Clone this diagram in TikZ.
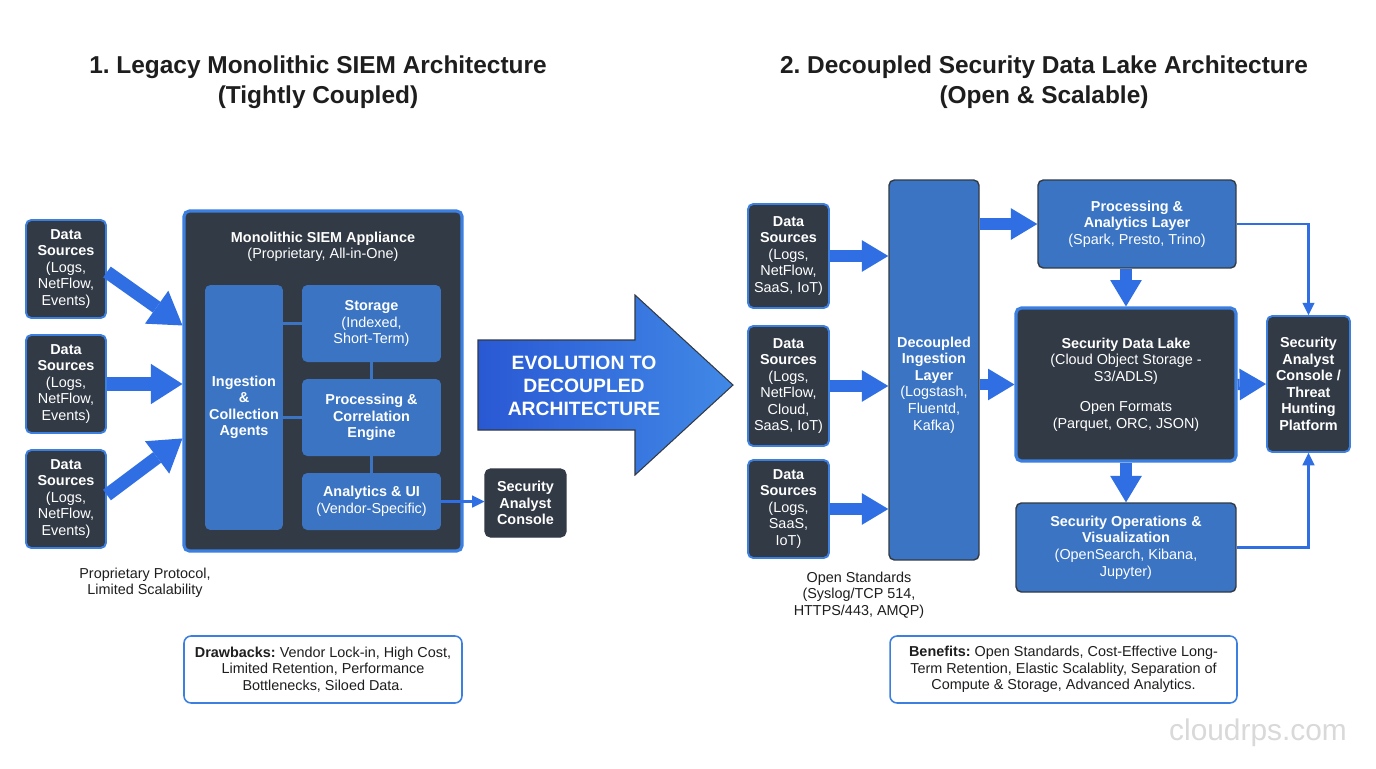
\documentclass[tikz,border=0pt]{standalone}
\usepackage{fontspec}
\setmainfont{Liberation Sans}
\usetikzlibrary{arrows.meta, calc}
\frenchspacing

\definecolor{darkslate}{HTML}{323A45}
\definecolor{boxblue}{HTML}{3A74C2}
\definecolor{edgeblue}{HTML}{3B7FE0}
\definecolor{arrowblue}{HTML}{2F6FE3}
\definecolor{inkgray}{HTML}{1E1E1E}
\definecolor{shadeleft}{HTML}{2A58D4}
\definecolor{shaderight}{HTML}{4189E6}

\newcommand{\boxfont}{\fontsize{8.2}{9.4}\selectfont}
\newcommand{\titlefont}{\fontsize{13.9}{17}\selectfont\bfseries}

\tikzset{
  darkbox/.style={draw=edgeblue, line width=1.1pt, fill=darkslate, rounded corners=3pt,
    text=white, align=center, font=\boxfont, inner sep=1pt},
  bluebox/.style={draw=darkslate, line width=0.8pt, fill=boxblue, rounded corners=3pt,
    text=white, align=center, font=\boxfont, inner sep=1pt},
  innerbox/.style={fill=boxblue, rounded corners=3pt, text=white, align=center,
    font=\boxfont, inner sep=1pt},
  shellbox/.style={draw=edgeblue, line width=1.8pt, fill=darkslate, rounded corners=3pt,
    text=white, align=center, font=\boxfont},
  notebox/.style={draw=edgeblue, line width=0.9pt, fill=white, rounded corners=4pt,
    align=center, font=\boxfont, text=inkgray},
  plaintext/.style={align=center, font=\boxfont, text=inkgray},
  fatarrow/.style={draw=arrowblue, line width=7.5pt, -{Triangle[length=18pt, width=23pt, line width=0pt]}},
  slimarrow/.style={draw=arrowblue, line width=6.5pt, -{Triangle[length=15pt, width=18pt, line width=0pt]}},
  linkline/.style={draw=boxblue, line width=1.6pt},
  thinarrow/.style={draw=arrowblue, line width=1.5pt, -{Triangle[length=7pt, width=7pt, line width=0pt]}},
}

\begin{document}
\begin{tikzpicture}[x=0.02cm, y=-0.02cm]
    \fill[white] (0,0) rectangle (1376,768);
    \useasboundingbox (0,0) rectangle (1376,768);

    % titles
    \node[align=center, font=\titlefont, text=inkgray] (titleL) at (318,82)
        {1. Legacy Monolithic SIEM Architecture\\(Tightly Coupled)};
    \node[align=center, font=\titlefont, text=inkgray] (titleR) at (1044,82)
        {2. Decoupled Security Data Lake Architecture\\(Open \& Scalable)};

    % ---- legacy side ----
    \foreach \n/\y in {1/269, 2/384, 3/499} {
        \node[darkbox, minimum width=1.6cm, minimum height=1.96cm] (srcL\n) at (66,\y)
            {\textbf{Data}\\\textbf{Sources}\\(Logs,\\NetFlow,\\Events)};
    }

    \node[shellbox, minimum width=5.56cm, minimum height=6.8cm] (siem) at (323,381) {};
    \node[align=center, font=\boxfont, text=white] (siemlabel) at (323,247)
        {\textbf{Monolithic SIEM Appliance}\\(Proprietary, All-in-One)};

    \node[innerbox, minimum width=1.56cm, minimum height=4.9cm] (agents) at (244,407.5)
        {\textbf{Ingestion}\\\textbf{\&}\\\textbf{Collection}\\\textbf{Agents}};
    \node[innerbox, minimum width=2.78cm, minimum height=1.54cm] (store) at (371.5,323.5)
        {\textbf{Storage}\\(Indexed,\\Short-Term)};
    \node[innerbox, minimum width=2.78cm, minimum height=1.54cm] (correl) at (371.5,417.5)
        {\textbf{Processing \&}\\\textbf{Correlation}\\\textbf{Engine}};
    \node[innerbox, minimum width=2.78cm, minimum height=1.14cm] (vendorui) at (371.5,501.5)
        {\textbf{Analytics \& UI}\\(Vendor-Specific)};

    \draw[linkline] (agents.east |- store.west) -- (store.west);
    \draw[linkline] (agents.east |- correl.west) -- (correl.west);
    \draw[linkline] (store.south) -- (correl.north);
    \draw[linkline] (correl.south) -- (vendorui.north);

    \draw[fatarrow] ($(srcL1.east)+(0,3)$) -- ($(siem.north west)+(0,116)$);
    \draw[fatarrow] (srcL2.east) -- (siem.west |- srcL2.east);
    \draw[fatarrow] ($(srcL3.east)+(0,-4)$) -- ($(siem.north west)+(0,229)$);

    \node[darkbox, line width=0.6pt, draw=darkslate, minimum width=1.62cm, minimum height=1.36cm] (consoleL) at (525.5,503)
        {\textbf{Security}\\\textbf{Analyst}\\\textbf{Console}};
    \draw[thinarrow] (vendorui.east) -- (consoleL.west |- vendorui.east);

    \node[plaintext] (protoL) at (145,583) {Proprietary Protocol,\\Limited Scalability};
    \node[notebox, minimum width=5.56cm, minimum height=1.34cm] (drawbacks) at (323,669.5)
        {\textbf{Drawbacks:} Vendor Lock-in, High Cost,\\Limited Retention, Performance\\Bottlenecks, Siloed Data.};

    % ---- evolution arrow ----
    \draw[left color=shadeleft, right color=shaderight, draw=darkslate, line width=0.6pt]
        (478,340) -- (635,340) -- (635,295) -- (733,385) -- (635,475) -- (635,430) -- (478,430) -- cycle;
    \node[align=center, text=white, font=\fontsize{11}{13}\selectfont\bfseries] (evolve) at (584,386)
        {EVOLUTION TO\\DECOUPLED\\ARCHITECTURE};

    % ---- data lake side ----
    \node[darkbox, minimum width=1.62cm, minimum height=2.08cm] (srcR1) at (788.5,256)
        {\textbf{Data}\\\textbf{Sources}\\(Logs,\\NetFlow,\\SaaS, IoT)};
    \node[darkbox, minimum width=1.62cm, minimum height=2.4cm] (srcR2) at (788.5,386)
        {\textbf{Data}\\\textbf{Sources}\\(Logs,\\NetFlow,\\Cloud,\\SaaS, IoT)};
    \node[darkbox, minimum width=1.62cm, minimum height=1.96cm] (srcR3) at (788.5,509)
        {\textbf{Data}\\\textbf{Sources}\\(Logs,\\SaaS,\\IoT)};

    \node[bluebox, minimum width=1.8cm, minimum height=7.6cm] (ingest) at (934,370) {};
    \node[align=center, font=\boxfont, text=white] (ingestlabel) at (934,385)
        {\textbf{Decoupled}\\\textbf{Ingestion}\\\textbf{Layer}\\(Logstash,\\Fluentd,\\Kafka)};
    \node[bluebox, minimum width=3.96cm, minimum height=1.76cm] (compute) at (1137,224)
        {\textbf{Processing \&}\\\textbf{Analytics Layer}\\(Spark, Presto, Trino)};
    \node[shellbox, minimum width=4.4cm, minimum height=3.06cm] (lake) at (1126,384.5)
        {\textbf{Security Data Lake}\\(Cloud Object Storage -\\S3/ADLS)\\[8pt]Open Formats\\(Parquet, ORC, JSON)};
    \node[bluebox, minimum width=4.4cm, minimum height=1.78cm] (secops) at (1126,547.5)
        {\textbf{Security Operations \&}\\\textbf{Visualization}\\(OpenSearch, Kibana,\\Jupyter)};
    \node[darkbox, minimum width=1.66cm, minimum height=2.72cm] (consoleR) at (1308.5,384)
        {\textbf{Security}\\\textbf{Analyst}\\\textbf{Console /}\\\textbf{Threat}\\\textbf{Hunting}\\\textbf{Platform}};

    \foreach \n in {1,2,3} {
        \draw[slimarrow] (srcR\n.east) -- (ingest.west |- srcR\n.east);
    }
    \draw[slimarrow] (ingest.east |- compute.west) -- (compute.west);
    \draw[slimarrow] (ingest.east |- lake.west) -- (lake.west);
    \draw[slimarrow] (compute.south -| lake.north) -- (lake.north);
    \draw[slimarrow] (lake.south) -- (secops.north);
    \draw[slimarrow] (lake.east) -- (consoleR.west);
    \draw[thinarrow] (compute.east) -| (consoleR.north);
    \draw[thinarrow] (secops.east) -| (consoleR.south);

    \node[plaintext] (protoR) at (859,595) {Open Standards\\(Syslog/TCP 514,\\HTTPS/443, AMQP)};
    \node[notebox, minimum width=6.94cm, minimum height=1.34cm] (benefits) at (1063.5,669.5)
        {\textbf{Benefits:} Open Standards, Cost-Effective Long-\\Term Retention, Elastic Scalablity, Separation of\\Compute \& Storage, Advanced Analytics.};

    \node[text=gray!30, font=\fontsize{17}{20}\selectfont] (mark) at (1258,733) {cloudrps.com};
\end{tikzpicture}
\end{document}
